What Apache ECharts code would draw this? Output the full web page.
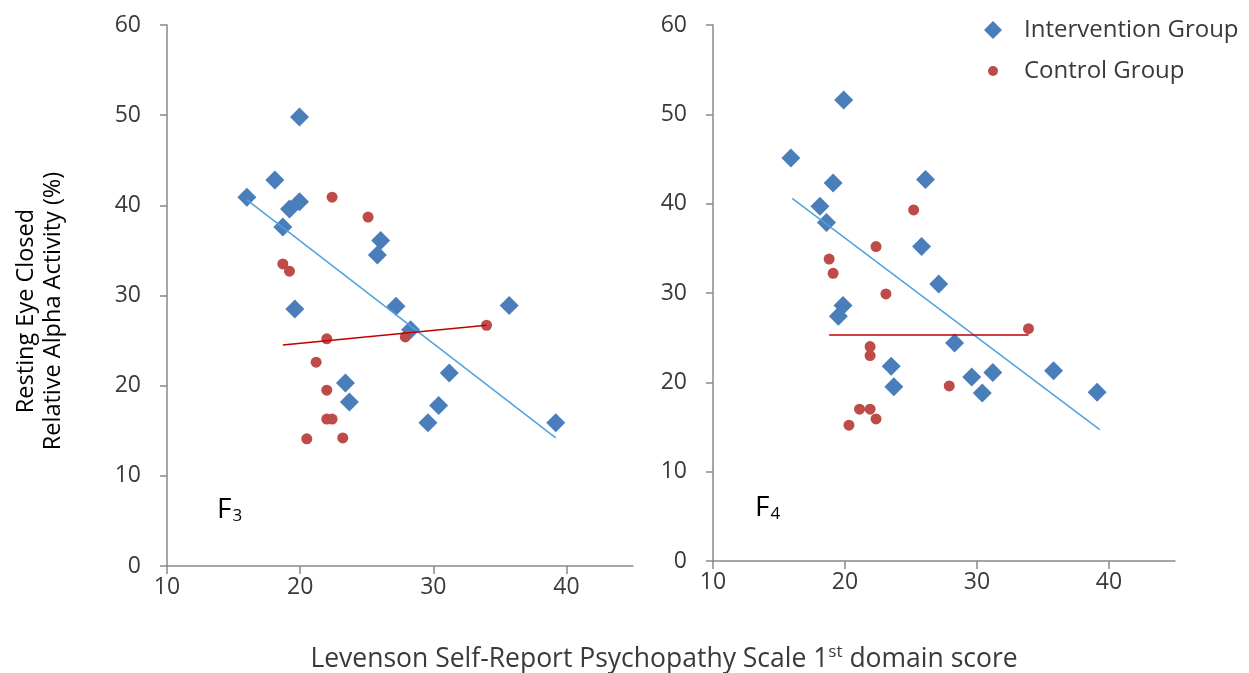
<!DOCTYPE html>
<html>
<head>
<meta charset="utf-8">
<script src="https://cdn.jsdelivr.net/npm/echarts@6/dist/echarts.min.js"></script>
<style>
  html, body { margin: 0; padding: 0; background: #fff; }
  #chart { width: 1249px; height: 673px; }
</style>
</head>
<body>
<div id="chart"></div>
<script>
// F3 panel
const f3Intervention = [
  [16.0, 40.9], [18.1, 42.8], [19.95, 49.8], [18.7, 37.6], [19.2, 39.6], [19.95, 40.4],
  [19.6, 28.5], [26.05, 36.1], [25.8, 34.5], [27.2, 28.8], [28.3, 26.2], [35.7, 28.9],
  [31.2, 21.4], [23.4, 20.3], [23.7, 18.2], [30.4, 17.8], [29.6, 15.9], [39.2, 15.9]
];
const f3Control = [
  [22.4, 40.9], [25.1, 38.7], [18.7, 33.5], [19.2, 32.7], [22.0, 25.2], [27.9, 25.4],
  [34.0, 26.7], [21.2, 22.6], [22.0, 19.5], [22.0, 16.3], [22.4, 16.3], [20.5, 14.1],
  [23.2, 14.2]
];
const f3TrendIntervention = [[16.0, 40.6], [39.2, 14.2]];
const f3TrendControl = [[18.7, 24.5], [34.0, 26.7]];

// F4 panel
const f4Intervention = [
  [15.9, 45.1], [19.9, 51.6], [19.1, 42.3], [26.1, 42.7], [18.1, 39.7], [18.6, 37.9],
  [25.8, 35.2], [27.1, 31.0], [19.85, 28.6], [19.5, 27.4], [28.3, 24.4], [23.5, 21.8],
  [23.7, 19.5], [29.6, 20.6], [31.2, 21.1], [30.4, 18.8], [35.8, 21.3], [39.1, 18.9]
];
const f4Control = [
  [25.2, 39.3], [22.35, 35.2], [18.8, 33.8], [19.1, 32.2], [23.1, 29.9], [33.9, 26.0],
  [21.9, 24.0], [21.9, 23.0], [27.9, 19.6], [21.1, 17.0], [21.9, 17.0], [22.35, 15.9],
  [20.3, 15.2]
];
const f4TrendIntervention = [[16.0, 40.6], [39.3, 14.7]];
const f4TrendControl = [[18.8, 25.3], [33.9, 25.3]];

const xTicks = [10, 20, 30, 40];
const yTicks = [0, 10, 20, 30, 40, 50, 60];

const FONT = '"Open Sans", "Noto Sans", sans-serif';
const AXIS_COLOR = '#898989';
const LABEL_COLOR = '#3a3a3a';
const BLUE = '#4A7EBB';
const RED = '#BE4B48';

const xAxisBase = (gridIndex) => ({
  gridIndex,
  type: 'value',
  min: 10,
  max: 45,
  interval: 10,
  splitLine: {show: false},
  axisLine: {lineStyle: {color: AXIS_COLOR, width: 1.5}},
  axisTick: {show: true, length: 8, customValues: xTicks, lineStyle: {color: AXIS_COLOR, width: 1.5}},
  axisLabel: {customValues: xTicks, margin: 10, fontSize: 23, color: LABEL_COLOR, fontFamily: FONT}
});
const yAxisBase = (gridIndex) => ({
  gridIndex,
  type: 'value',
  min: 0,
  max: 60,
  interval: 10,
  splitLine: {show: false},
  axisLine: {show: true, lineStyle: {color: AXIS_COLOR, width: 1.5}},
  axisTick: {show: true, length: 7, lineStyle: {color: AXIS_COLOR, width: 1.5}},
  axisLabel: {customValues: yTicks, margin: 26, fontSize: 23, color: LABEL_COLOR, fontFamily: FONT}
});

const scatter = (name, data, idx, isDiamond) => ({
  name,
  type: 'scatter',
  xAxisIndex: idx,
  yAxisIndex: idx,
  data,
  symbol: isDiamond ? 'diamond' : 'circle',
  symbolSize: isDiamond ? 19 : 11,
  itemStyle: {color: isDiamond ? BLUE : RED, opacity: 1},
  z: 3
});
const trend = (data, idx, color) => ({
  name: 'trend',
  type: 'line',
  xAxisIndex: idx,
  yAxisIndex: idx,
  data,
  symbol: 'none',
  lineStyle: {color, width: 1.5},
  silent: true,
  z: 4
});

const subLabel = (left, top, digit) => ({
  type: 'text', left, top,
  style: {
    text: '{m|F}{s|' + digit + '}',
    rich: {
      m: {fontSize: 28, fill: '#000', fontFamily: FONT},
      s: {fontSize: 17, fill: '#000', fontFamily: FONT, verticalAlign: 'bottom', padding: [12, 0, 0, 1]}
    }
  }
});

const chart = echarts.init(document.getElementById('chart'));
chart.setOption({
  backgroundColor: '#fff',
  animation: false,
  textStyle: {fontFamily: FONT},
  grid: [
    {left: 167, top: 25, width: 466, height: 541},
    {left: 713, top: 25, width: 462, height: 536}
  ],
  xAxis: [xAxisBase(0), xAxisBase(1)],
  yAxis: [yAxisBase(0), yAxisBase(1)],
  legend: [
    {
      data: [{name: 'Intervention Group', icon: 'diamond'}],
      left: 979, top: 13,
      itemWidth: 18, itemHeight: 18,
      textStyle: {fontSize: 24, color: LABEL_COLOR, fontFamily: FONT, padding: [0, 0, 0, 17]}
    },
    {
      data: [{name: 'Control Group', icon: 'circle'}],
      left: 983, top: 54,
      itemWidth: 10, itemHeight: 10,
      textStyle: {fontSize: 24, color: LABEL_COLOR, fontFamily: FONT, padding: [0, 0, 0, 21]}
    }
  ],
  graphic: [
    subLabel(217, 496, 3),
    subLabel(755, 494, 4),
    {
      type: 'text', x: 40, y: 311, rotation: Math.PI / 2,
      style: {
        text: 'Resting Eye Closed\nRelative Alpha Activity (%)',
        fontSize: 23.5, lineHeight: 27, fill: '#000', fontFamily: FONT,
        align: 'center', verticalAlign: 'middle'
      }
    },
    {
      type: 'text', x: 664, y: 659,
      style: {
        text: '{m|Levenson Self-Report Psychopathy Scale 1}{s|st}{m| domain score}',
        align: 'center', verticalAlign: 'middle',
        rich: {
          m: {fontSize: 26.5, fill: '#3a3a3a', fontFamily: FONT},
          s: {fontSize: 17, fill: '#3a3a3a', fontFamily: FONT, padding: [0, 0, 13, 0]}
        }
      }
    }
  ],
  series: [
    scatter('Intervention Group', f3Intervention, 0, true),
    scatter('Control Group', f3Control, 0, false),
    trend(f3TrendIntervention, 0, '#4FA3DD'),
    trend(f3TrendControl, 0, '#C00000'),
    scatter('Intervention Group', f4Intervention, 1, true),
    scatter('Control Group', f4Control, 1, false),
    trend(f4TrendIntervention, 1, '#4FA3DD'),
    trend(f4TrendControl, 1, '#C00000')
  ]
});
</script>
</body>
</html>
